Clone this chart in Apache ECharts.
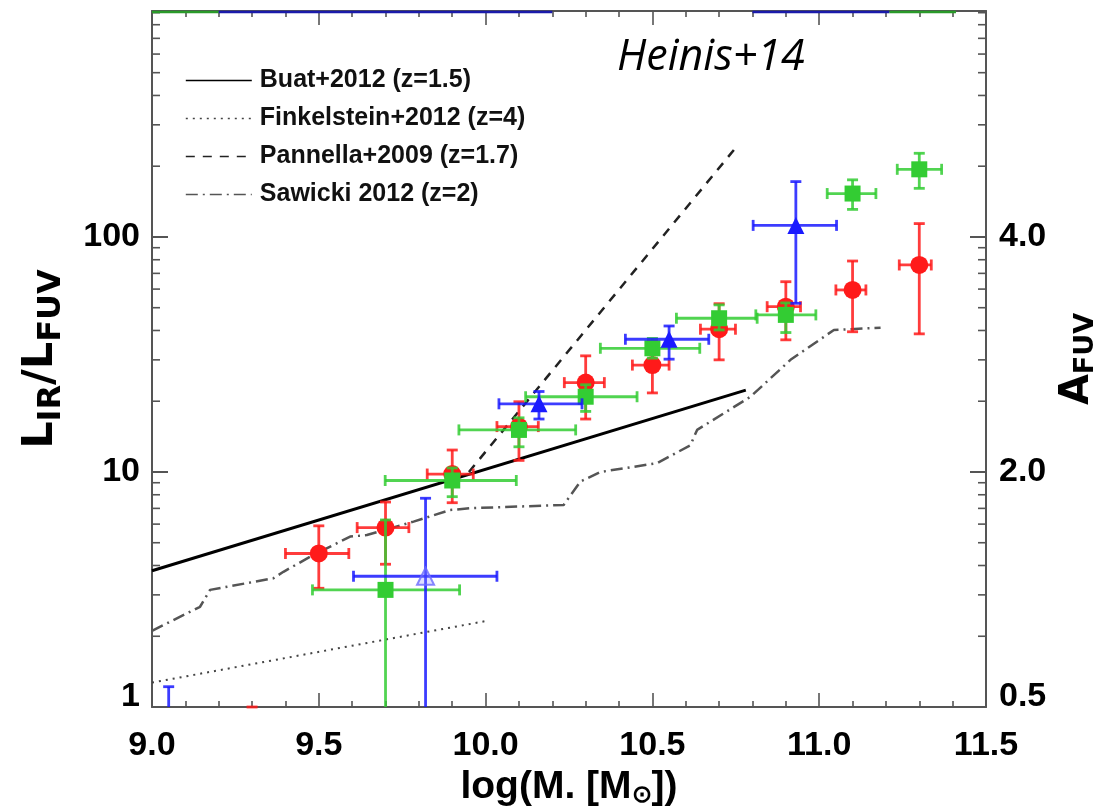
<!DOCTYPE html>
<html>
<head>
<meta charset="utf-8">
<script src="https://cdn.jsdelivr.net/npm/echarts@6/dist/echarts.min.js"></script>
<style>
  html, body { margin: 0; padding: 0; background: #fff; }
  #chart { width: 1102px; height: 811px; }
</style>
</head>
<body>
<div id="chart"></div>
<script>
// ---- axes -------------------------------------------------------------
const massTicks = [9.0, 9.5, 10.0, 10.5, 11.0, 11.5];
const irxRange = [1, 915];
const irxDecades = [1, 10, 100];
const aFuvLabels = ['0.5', '2.0', '4.0'];          // A_FUV printed opposite each IRX decade
const irxMinorTicks = [2, 3, 4, 5, 6, 7, 8, 9, 20, 30, 40, 50, 60, 70, 80, 90,
                       200, 300, 400, 500, 600, 700, 800, 900];

// ---- literature relations: [log M*, IRX] --------------------------------
const buat2012 = [[9.0, 3.8], [10.78, 22.3]];
const finkelstein2012 = [[9.0, 1.27], [10.0, 2.32]];
const pannella2009 = [[9.95, 10.0], [10.75, 240]];
const sawicki2012 = [
  [9.0, 2.11], [9.144, 2.67], [9.174, 3.15], [9.364, 3.53], [9.394, 3.76],
  [9.474, 4.36], [9.594, 5.31], [9.644, 5.39], [9.784, 6.15], [9.894, 6.89],
  [9.954, 7.01], [10.234, 7.24], [10.284, 9.1], [10.344, 10.0], [10.514, 10.9],
  [10.614, 13.0], [10.634, 15.1], [10.794, 20.9], [10.914, 30.0], [11.044, 40.2],
  [11.184, 41.1]
];

// ---- measurements: [log M*, IRX, logM lo, logM hi, IRX lo, IRX hi] ------
const redPoints = [
  [9.3, 0.5, 9.3, 9.3, 0.3, 1.0],
  [9.5, 4.5, 9.40, 9.59, 3.2, 5.9],
  [9.7, 5.8, 9.615, 9.77, 4.05, 7.45],
  [9.9, 9.8, 9.825, 9.963, 7.4, 12.4],
  [10.1, 15.6, 10.034, 10.158, 11.2, 19.9],
  [10.3, 24.0, 10.236, 10.356, 16.8, 31.2],
  [10.5, 28.5, 10.44, 10.55, 21.7, 36.0],
  [10.7, 40.5, 10.644, 10.749, 30.0, 52.0],
  [10.9, 50.5, 10.844, 10.944, 36.5, 64.5],
  [11.1, 59.5, 11.05, 11.14, 39.5, 79.0],
  [11.3, 76.0, 11.24, 11.336, 38.7, 114.0]
];
const greenPoints = [
  [9.7, 3.15, 9.481, 9.922, 0.3, 6.25],
  [9.9, 9.2, 9.699, 10.092, 7.85, 10.4],
  [10.1, 15.1, 9.92, 10.27, 12.8, 17.0],
  [10.3, 20.9, 10.12, 10.454, 18.1, 23.5],
  [10.5, 33.6, 10.344, 10.642, 30.5, 37.0],
  [10.7, 45.1, 10.572, 10.814, 40.2, 51.4],
  [10.9, 46.6, 10.81, 10.99, 39.2, 52.4],
  [11.1, 153, 11.024, 11.17, 131, 175],
  [11.3, 194, 11.234, 11.367, 161, 227]
];
const bluePoints = [
  [9.05, 0.8, 9.05, 9.05, 0.5, 1.22],
  [10.16, 19.5, 10.04, 10.289, 16.8, 22.0],
  [10.55, 36.7, 10.419, 10.669, 30.2, 41.8],
  [10.93, 112, 10.802, 11.052, 52.2, 172]
];
const blueOpenPoints = [
  [9.82, 3.6, 9.604, 10.034, 0.3, 7.73]
];
// mass ranges of bins running off the top of the plot
const greenOffTop = [[9.0, 9.2], [11.21, 11.41]];
const blueOffTop = [[9.2, 10.2], [10.8, 11.21]];

const RED = '#ff1a1a', GREEN = '#33cc33', BLUE = '#1a1aff';
const FONT = 'Liberation Sans';
const NAME_FONT = 'DejaVu Sans';

// error bars with end caps, clipped to the plotting area
function errorBars(color) {
  return function (params, api) {
    const r = params.coordSys;
    const top = r.y, bottom = r.y + r.height, left = r.x, right = r.x + r.width;
    const x = api.value(0), y = api.value(1);
    const c = api.coord([x, y]);
    const xl = api.coord([api.value(2), y])[0];
    const xh = api.coord([api.value(3), y])[0];
    const yl = api.coord([x, api.value(4)])[1];
    const yh = api.coord([x, api.value(5)])[1];
    const cap = 5.5;
    const style = { stroke: color, lineWidth: 2.8, fill: null, opacity: 0.85 };
    const kids = [];
    const line = (x1, y1, x2, y2) => kids.push({ type: 'line', shape: { x1, y1, x2, y2 }, style });
    // vertical bar
    const v1 = Math.max(top, Math.min(bottom, yh)), v2 = Math.max(top, Math.min(bottom, yl));
    if (v2 > v1) line(c[0], v1, c[0], v2);
    if (yh >= top - 1 && yh <= bottom + 1) line(c[0] - cap, yh, c[0] + cap, yh);
    if (yl >= top - 1 && yl <= bottom + 1) line(c[0] - cap, yl, c[0] + cap, yl);
    // horizontal bar
    if (c[1] >= top && c[1] <= bottom && xh > xl) {
      line(Math.max(left, xl), c[1], Math.min(right, xh), c[1]);
      line(xl, c[1] - cap, xl, c[1] + cap);
      line(xh, c[1] - cap, xh, c[1] + cap);
    }
    return { type: 'group', children: kids };
  };
}

function topSegments(color) {
  return function (params, api) {
    const a = api.coord([api.value(0), irxRange[1]]);
    const b = api.coord([api.value(1), irxRange[1]]);
    return { type: 'line', shape: { x1: a[0], y1: a[1] + 1, x2: b[0], y2: b[1] + 1 },
             style: { stroke: color, lineWidth: 2.5 } };
  };
}

// log minor ticks on both vertical frame edges
function minorTicks(params, api) {
  const r = params.coordSys;
  const p = api.coord([massTicks[0], api.value(0)]);
  const s = { stroke: '#555', lineWidth: 1.6 };
  return { type: 'group', children: [
    { type: 'line', shape: { x1: r.x, y1: p[1], x2: r.x + 8, y2: p[1] }, style: s },
    { type: 'line', shape: { x1: r.x + r.width - 8, y1: p[1], x2: r.x + r.width, y2: p[1] }, style: s }
  ] };
}

const labelStyle = { fontFamily: FONT, fontWeight: 'bold', fontSize: 34, color: '#000' };
// the bottom label on each vertical axis sits a little above its tick
const yLabelRich = { lo: { fontFamily: FONT, fontWeight: 'bold', fontSize: 34, color: '#000', padding: [0, 0, 20, 0] } };
const leftRich = {
  main: { fontFamily: NAME_FONT, fontWeight: 'bold', fontSize: 43, color: '#000' },
  sub: { fontFamily: NAME_FONT, fontWeight: 'bold', fontSize: 32, color: '#000', padding: [22, 0, 0, 0] }
};
const rightRich = {
  main: { fontFamily: NAME_FONT, fontWeight: 'bold', fontSize: 40, color: '#000' },
  sub: { fontFamily: NAME_FONT, fontWeight: 'bold', fontSize: 27, color: '#000', padding: [18, 0, 0, 0] }
};
const axisLine = { show: true, lineStyle: { color: '#555', width: 2 } };

const chart = echarts.init(document.getElementById('chart'), null, { renderer: 'canvas' });

const lineSeries = (name, data, lineStyle) => ({
  name, type: 'line', data, symbol: 'none', smooth: false, z: 2,
  lineStyle, silent: true, animation: false
});

chart.setOption({
  animation: false,
  backgroundColor: '#fff',
  title: {
    text: 'Heinis+14', left: 612, top: 31,
    textStyle: { fontFamily: 'Open Sans', fontStyle: 'italic', fontWeight: 'normal', fontSize: 43, color: '#000' }
  },
  legend: {
    orient: 'vertical', left: 180, top: 63, itemWidth: 66, itemHeight: 14, itemGap: 13,
    itemStyle: { opacity: 0 },
    lineStyle: { width: 1.6 },
    textStyle: { fontFamily: FONT, fontWeight: 'bold', fontSize: 25, lineHeight: 25, color: '#111', padding: [0, 0, 0, 3] },
    data: ['Buat+2012 (z=1.5)', 'Finkelstein+2012 (z=4)', 'Pannella+2009 (z=1.7)', 'Sawicki 2012 (z=2)']
  },
  grid: { left: 152, right: 116, top: 11, bottom: 104, containLabel: false, outerBoundsMode: 'none' },
  xAxis: [
    {
      type: 'value', position: 'bottom', min: massTicks[0], max: massTicks[massTicks.length - 1], interval: 0.5,
      axisLine, splitLine: { show: false },
      axisTick: { show: true, inside: true, length: 14, lineStyle: { color: '#555', width: 1.6 } },
      minorTick: { show: true, splitNumber: 5, length: 6, lineStyle: { color: '#555', width: 1.6 } },
      axisLabel: { ...labelStyle, margin: 22, formatter: v => v.toFixed(1) },
      name: '{main|log(M. [M}{sub|⊙}{main|])}', nameLocation: 'middle', nameGap: 58,
      nameTextStyle: { rich: {
        main: { fontFamily: FONT, fontWeight: 'bold', fontSize: 39, color: '#000' },
        sub: { fontFamily: FONT, fontWeight: 'bold', fontSize: 24, color: '#000', padding: [16, 0, 0, 0] }
      } }
    },
    {
      type: 'value', position: 'top', min: massTicks[0], max: massTicks[massTicks.length - 1], interval: 0.5,
      axisLine, splitLine: { show: false }, axisLabel: { show: false },
      axisTick: { show: true, inside: true, length: 14, lineStyle: { color: '#555', width: 1.6 } },
      minorTick: { show: true, splitNumber: 5, length: 6, lineStyle: { color: '#555', width: 1.6 } }
    }
  ],
  yAxis: [
    {
      type: 'log', logBase: 10, position: 'left', min: irxRange[0], max: irxRange[1],
      axisLine, splitLine: { show: false },
      axisTick: { show: true, inside: true, length: 16, lineStyle: { color: '#555', width: 2 } },
      axisLabel: { ...labelStyle, margin: 12, showMaxLabel: false, rich: yLabelRich,
        formatter: v => {
          const i = irxDecades.indexOf(Math.round(v));
          if (i < 0) return '';
          return i === 0 ? '{lo|' + irxDecades[i] + '}' : String(irxDecades[i]);
        } },
      name: '{main|L}{sub|IR}{main|/L}{sub|FUV}', nameLocation: 'middle', nameRotate: 90, nameGap: 84,
      nameTextStyle: { rich: leftRich }
    },
    {
      type: 'log', logBase: 10, position: 'right', min: irxRange[0], max: irxRange[1],
      axisLine, splitLine: { show: false },
      axisTick: { show: true, inside: true, length: 16, lineStyle: { color: '#555', width: 2 } },
      axisLabel: { ...labelStyle, margin: 13, showMaxLabel: false, rich: yLabelRich,
        formatter: v => {
          const i = irxDecades.indexOf(Math.round(v));
          if (i < 0) return '';
          return i === 0 ? '{lo|' + aFuvLabels[i] + '}' : aFuvLabels[i];
        } },
      name: '{main|A}{sub|FUV}', nameLocation: 'middle', nameRotate: 90, nameGap: 64,
      nameTextStyle: { rich: rightRich }
    }
  ],
  series: [
    { type: 'custom', name: 'minor', silent: true, renderItem: minorTicks, z: 5,
      data: irxMinorTicks.filter(v => v <= irxRange[1]).map(v => [v]), encode: { y: 0 } },
    lineSeries('Buat+2012 (z=1.5)', buat2012, { color: '#000', width: 3, type: 'solid' }),
    lineSeries('Finkelstein+2012 (z=4)', finkelstein2012, { color: '#444', width: 2, type: [2, 5] }),
    lineSeries('Pannella+2009 (z=1.7)', pannella2009, { color: '#222', width: 2.5, type: [9, 8] }),
    lineSeries('Sawicki 2012 (z=2)', sawicki2012, { color: '#555', width: 2.5, type: [12, 5, 2, 5] }),

    { type: 'custom', name: 'red err', silent: true, renderItem: errorBars(RED), data: redPoints,
      encode: { x: [0, 2, 3], y: [1, 4, 5] }, z: 3 },
    { type: 'scatter', name: 'red', silent: true, data: redPoints.map(p => [p[0], p[1]]), symbol: 'circle',
      symbolSize: 18, itemStyle: { color: RED, opacity: 1 }, z: 4, clip: true },

    { type: 'custom', name: 'green err', silent: true, renderItem: errorBars(GREEN), data: greenPoints,
      encode: { x: [0, 2, 3], y: [1, 4, 5] }, z: 5 },
    { type: 'scatter', name: 'green', silent: true, data: greenPoints.map(p => [p[0], p[1]]), symbol: 'rect',
      symbolSize: 16, itemStyle: { color: GREEN, opacity: 1 }, z: 6, clip: true },
    { type: 'custom', name: 'green top', silent: true, renderItem: topSegments('#2a9a2a'), data: greenOffTop,
      encode: { x: [0, 1] }, z: 9 },

    { type: 'scatter', name: 'blue open', silent: true, data: blueOpenPoints.map(p => [p[0], p[1]]),
      symbol: 'triangle', symbolSize: 17,
      itemStyle: { color: 'rgba(140,140,255,0.35)', borderColor: '#6a6aff', borderWidth: 2 }, z: 7, clip: true },
    { type: 'custom', name: 'blue open err', silent: true, renderItem: errorBars(BLUE), data: blueOpenPoints,
      encode: { x: [0, 2, 3], y: [1, 4, 5] }, z: 7 },
    { type: 'custom', name: 'blue err', silent: true, renderItem: errorBars(BLUE), data: bluePoints,
      encode: { x: [0, 2, 3], y: [1, 4, 5] }, z: 7 },
    { type: 'scatter', name: 'blue', silent: true, data: bluePoints.map(p => [p[0], p[1]]), symbol: 'triangle',
      symbolSize: 17, itemStyle: { color: BLUE, opacity: 1 }, z: 8, clip: true },
    { type: 'custom', name: 'blue top', silent: true, renderItem: topSegments('#1a1aaa'), data: blueOffTop,
      encode: { x: [0, 1] }, z: 9 }
  ]
});
</script>
</body>
</html>
